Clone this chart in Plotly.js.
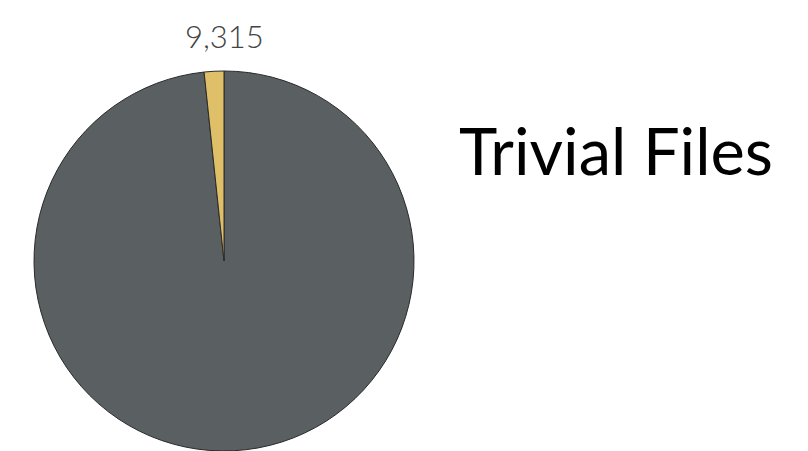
<!DOCTYPE html>
<html>
<head>
<meta charset="utf-8">
<script src="https://cdn.plot.ly/plotly-3.0.1.min.js"></script>
<style>html,body{margin:0;padding:0;background:#fff;}#chart{width:808px;height:451px;}</style>
</head>
<body>
<div id="chart"></div>
<script>
const categories = ["Other", "Trivial"];
const values = [548000, 9315];
const colors = ["#5a5f62", "#dfc068"];
const chartTitle = "Trivial Files";

const W = 808, H = 451;
const cx = 224, cy = 261, r = 190;

const trace = {
  type: "pie",
  labels: categories,
  values: values,
  sort: false,
  direction: "clockwise",
  rotation: 0,
  textinfo: "none",
  hoverinfo: "label+value",
  marker: { colors: colors, line: { color: "#2a2a2a", width: 1 } },
  domain: { x: [(cx - r) / W, (cx + r) / W], y: [(H - (cy + r)) / H, (H - (cy - r)) / H] },
  showlegend: false
};

const layout = {
  width: W, height: H,
  margin: { l: 0, r: 0, t: 0, b: 0 },
  paper_bgcolor: "#fff",
  title: {
    text: chartTitle,
    font: { family: "Lato, 'Open Sans', sans-serif", size: 65, color: "#000" },
    x: 616 / W, xanchor: "center", xref: "paper",
    y: 1 - 152 / H, yanchor: "middle", yref: "container"
  },
  annotations: [{
    text: values[1].toLocaleString("en-US"),
    xref: "paper", yref: "paper",
    x: cx / W, y: 1 - 36 / H,
    xanchor: "center", yanchor: "middle",
    showarrow: false,
    font: { family: "Lato, 'Open Sans', sans-serif", size: 31, weight: 300, color: "#444" }
  }]
};

Plotly.newPlot("chart", [trace], layout, { displayModeBar: false, staticPlot: true });
</script>
</body>
</html>
